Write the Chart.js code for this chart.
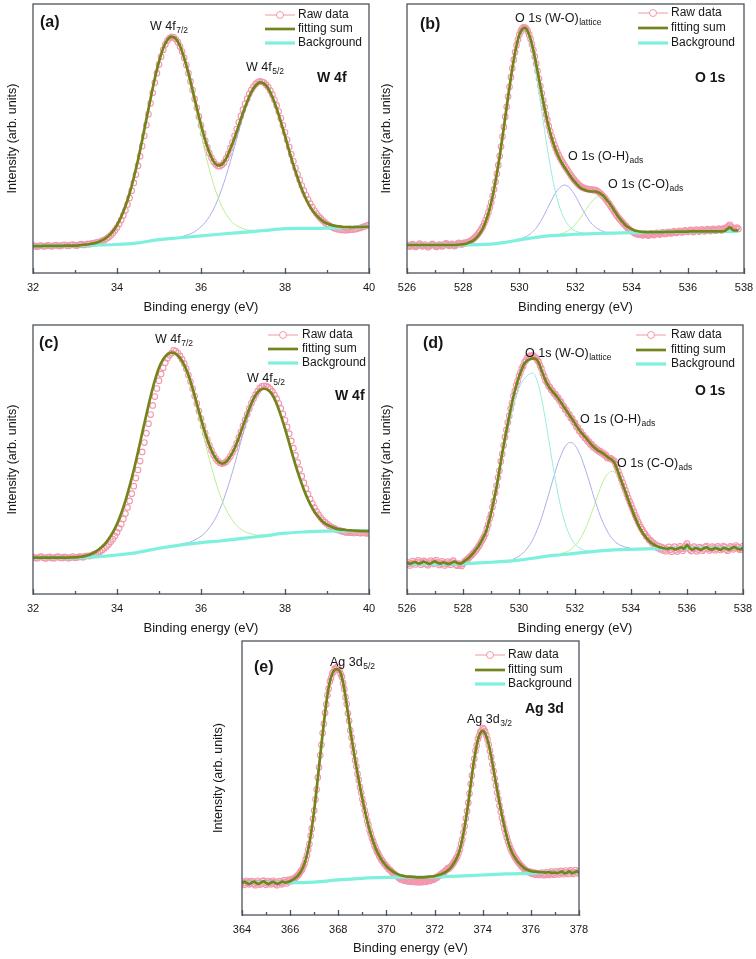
<!DOCTYPE html>
<html>
<head>
<meta charset="utf-8">
<title>XPS spectra</title>
<script src="https://cdn.jsdelivr.net/npm/chart.js@4.4.0/dist/chart.umd.min.js"></script>
<style>
  body { margin: 0; background: #fff; }
  #page { position: relative; width: 756px; height: 959px; overflow: hidden; background: #fff; }
  canvas { position: absolute; }
</style>
</head>
<body>
<div id="page">
  <canvas id="chartA" width="379" height="320" style="left:0;top:0"></canvas>
  <canvas id="chartB" width="380" height="320" style="left:374px;top:0"></canvas>
  <canvas id="chartC" width="379" height="320" style="left:0;top:321px"></canvas>
  <canvas id="chartD" width="379" height="320" style="left:374px;top:321px"></canvas>
  <canvas id="chartE" width="380" height="322" style="left:209px;top:637px"></canvas>
</div>
<script>
// ---- Panel (a): W 4f ----
const aTicks = [32, 34, 36, 38, 40];
const aMinor = [33, 35, 37, 39];
const aRawStart = 32, aRawStep = 0.05;
const aRaw = [
  10.3,10.0,9.8,10.1,10.2,9.9,10.0,10.3,10.1,9.9,10.2,10.4,10.1,10.0,10.3,10.5,10.2,10.1,10.4,10.6,
  10.3,10.2,10.5,10.7,10.4,10.6,10.8,10.7,11.0,11.1,11.3,11.5,11.6,12.0,12.3,12.8,13.3,14.0,14.8,15.8,
  16.9,18.2,19.7,21.4,23.3,25.5,27.9,30.6,33.5,36.6,39.9,43.4,47.2,51.0,55.0,59.0,63.1,67.0,70.8,74.3,
  77.5,80.4,83.0,84.9,86.4,87.3,87.8,87.6,86.9,85.8,84.2,82.3,80.0,77.3,74.3,71.2,68.0,64.7,61.4,58.1,
  54.9,51.9,49.2,46.7,44.6,42.8,41.4,40.4,39.8,39.7,40.2,41.1,42.6,44.3,46.4,48.6,51.0,53.5,56.0,58.4,
  60.7,62.9,64.8,66.6,68.1,69.3,70.3,70.9,71.2,71.1,70.8,70.0,69.1,67.8,66.3,64.4,62.3,60.0,57.5,54.9,
  52.3,49.5,46.8,44.1,41.5,39.0,36.7,34.6,32.5,30.6,28.9,27.3,25.8,24.5,23.2,22.1,21.1,20.3,19.5,18.8,
  18.2,17.7,17.2,16.8,16.5,16.3,16.2,16.0,16.0,15.9,16.0,16.1,16.1,16.3,16.4,16.6,16.8,17.1,17.3,17.6,
  17.9
];
const aFitStart = 32, aFitStep = 0.1;
const aFit = [
  10.0,10.0,10.0,10.1,10.1,10.1,10.1,10.1,10.2,10.2,10.2,
  10.3,10.5,10.6,10.9,11.2,11.8,12.6,13.8,15.5,17.8,
  20.9,24.8,29.6,35.4,42.0,49.4,57.2,64.9,72.3,78.6,
  83.5,86.7,87.9,87.1,84.4,79.9,74.4,67.9,61.4,55.1,
  49.4,44.8,41.5,40.0,40.4,42.6,46.2,50.3,54.9,59.6,
  63.7,67.3,69.7,70.9,70.4,68.6,65.4,61.2,56.3,51.0,
  45.4,40.1,35.4,31.1,27.5,24.5,22.3,20.6,19.3,18.4,
  17.9,17.5,17.3,17.1,17.1,17.0,17.1,17.1,17.2,17.2
];
const aBgE = [32, 33, 34, 34.5, 35, 35.5, 36, 36.5, 37, 37.5, 38, 38.5, 39, 39.5, 40];
const aBg = [10.0, 10.2, 10.6, 11.2, 12.4, 13.1, 13.8, 14.5, 15.1, 15.8, 16.5, 16.6, 16.7, 17.0, 17.2];
const aGreenStart = 35.3;
const aGreen = [87.8,86.9,84.0,79.4,73.5,66.5,59.2,51.8,44.7,38.4,32.9,28.3,24.6,21.8,19.6,18.1,17.2,16.5,16.0,15.9,15.8];
const aBlueStart = 35.5;
const aBlue = [13.4,13.8,14.3,14.9,15.9,17.2,18.8,21.0,23.8,27.3,31.5,36.2,41.5,47.0,52.8,58.2,62.9,66.8,69.4,70.7];

// ---- Panel (b): O 1s ----
const bTicks = [526, 528, 530, 532, 534, 536, 538];
const bMinor = [527, 529, 531, 533, 535, 537];
const bRawStart = 526, bRawStep = 0.05;
const bRaw = [
  10.6,10.1,9.8,10.3,10.7,10.2,9.7,10.0,10.5,10.9,10.3,9.9,10.2,10.6,10.1,9.6,10.0,10.4,10.8,10.5,
  10.0,9.7,10.2,10.6,10.3,9.9,10.1,10.7,11.0,10.5,10.1,10.4,10.8,10.3,10.0,10.4,10.9,11.2,10.8,10.6,
  11.0,11.3,11.1,11.4,11.6,11.9,12.1,12.6,13.0,13.6,14.1,14.8,15.5,16.4,17.3,18.5,19.7,21.1,22.6,24.4,
  26.3,28.6,31.1,33.9,36.9,40.1,43.5,47.0,50.7,54.3,58.1,61.8,65.6,69.2,72.8,76.1,79.3,82.1,84.7,86.8,
  88.6,89.9,90.8,91.3,91.2,90.8,89.9,88.6,87.0,85.0,82.9,80.4,77.8,75.1,72.3,69.5,66.8,64.1,61.6,59.0,
  56.8,54.6,52.7,50.8,49.2,47.6,46.3,45.0,43.9,42.8,41.9,41.0,40.1,39.3,38.5,37.7,36.9,36.1,35.4,34.7,
  34.1,33.5,33.0,32.5,32.1,31.8,31.6,31.4,31.3,31.2,31.1,31.0,30.9,30.9,30.8,30.6,30.3,29.9,29.5,28.9,
  28.4,27.8,27.1,26.4,25.7,24.9,24.1,23.3,22.5,21.7,21.0,20.3,19.7,19.1,18.5,17.9,17.4,16.8,16.3,15.9,
  15.6,15.2,14.9,14.6,14.4,14.3,14.5,14.2,14.0,14.3,14.6,14.1,13.9,14.3,14.7,14.4,14.1,14.5,14.9,14.6,
  14.3,14.7,15.1,14.8,14.5,14.9,15.3,15.0,14.7,15.1,15.5,15.2,14.9,15.3,15.7,15.4,15.1,15.5,15.9,15.6,
  15.3,15.7,16.0,15.6,15.2,15.6,16.1,15.8,15.4,15.7,16.2,15.9,15.5,15.8,16.3,16.0,15.6,15.9,16.4,16.0,
  15.7,16.1,16.5,16.2,15.8,16.3,16.7,16.4,17.0,17.5,17.9,17.2,16.5,16.1,16.6,16.9,16.4
];
const bFitStart = 526, bFitStep = 0.1;
const bFit = [
  10.4,10.4,10.4,10.4,10.4,10.4,10.4,10.4,10.4,10.4,10.4,10.4,10.4,10.4,10.4,10.4,10.4,10.4,
  10.5,10.6,10.7,
  10.9,11.3,11.7,12.4,13.4,14.8,16.6,19.1,22.3,26.2,
  31.2,37.0,43.4,50.6,58.0,65.5,72.7,79.2,84.6,88.5,
  90.7,91.1,89.8,86.9,82.8,77.6,72.1,66.5,61.2,56.3,
  52.2,48.6,45.6,43.2,41.2,39.5,37.9,36.3,34.8,33.6,
  32.4,31.5,31.0,30.6,30.4,30.3,30.3,30.0,29.4,28.6,
  27.3,26.1,24.5,22.9,21.3,19.9,18.7,17.6,16.9,16.3,
  15.8,15.6,15.4,15.3,15.2,15.2,15.2,15.2,15.2,15.2,
  15.2,15.3,15.3,15.3,15.3,15.4,15.4,15.4,15.4,15.4,
  15.5,15.5,15.5,15.5,15.5,15.5,15.5,15.5,15.5,15.5,
  15.5,15.5,15.6,16.3,17.0,16.0,15.8,15.9
];
const bBgE = [526, 527, 528, 529, 529.5, 530, 530.5, 531, 531.5, 532, 533, 534, 535, 536, 537, 537.8];
const bBg = [10.4, 10.4, 10.4, 10.7, 11.4, 12.3, 13.1, 13.8, 14.1, 14.4, 14.7, 15.0, 15.2, 15.4, 15.5, 15.5];
const bLatticeStart = 529.6;
const bLattice = [65.5,72.7,79.1,84.4,88.2,90.3,90.4,88.7,85.2,80.3,74.1,67.3,60.1,53.0,46.1,39.9,34.3,29.5,25.6,22.5,20.2,18.4,17.1,16.2,15.6,15.2,14.9,14.8];
const bOHStart = 529.9;
const bOH = [12.3,12.6,12.9,13.3,13.9,14.6,15.6,16.7,18.2,19.9,21.9,24.0,26.1,28.1,29.9,31.3,32.3,32.7,32.4,31.6,30.2,28.6,26.6,24.6,22.7,20.9,19.3,18.1,17.1,16.4,15.8,15.4,15.1,15.1,15.0];
const bCOStart = 531.3;
const bCO = [14.2,14.3,14.6,15.0,15.5,16.2,17.0,18.2,19.4,20.8,22.5,24.0,25.5,26.8,27.8,28.3,28.3,27.9,26.9,25.8,24.3,22.8,21.3,19.9,18.7,17.6,16.9,16.3,15.8,15.5,15.4];

// ---- Panel (c): W 4f ----
const cTicks = [32, 34, 36, 38, 40];
const cMinor = [33, 35, 37, 39];
const cRawStart = 32, cRawStep = 0.05;
const cRaw = [
  13.8,13.4,13.3,13.7,13.9,13.5,13.2,13.6,13.8,13.4,13.3,13.7,13.9,13.5,13.4,13.8,13.6,13.3,13.6,13.9,
  13.5,13.6,13.9,13.8,13.7,14.1,14.2,14.1,14.4,14.8,15.0,15.4,15.8,16.4,17.0,17.7,18.4,19.4,20.4,21.6,
  22.9,24.4,26.0,27.9,29.9,32.2,34.6,37.3,40.1,43.1,46.1,49.4,52.8,56.3,59.8,63.3,66.7,70.1,73.4,76.4,
  79.3,81.8,84.1,86.0,87.6,88.8,89.6,90.6,90.3,89.6,88.5,87.2,85.7,83.7,81.4,79.0,76.4,73.6,70.8,68.0,
  65.2,62.4,59.8,57.4,55.3,53.4,51.7,50.4,49.4,48.8,48.5,48.7,49.2,50.1,51.2,52.6,54.1,56.0,58.1,60.3,
  62.5,64.7,66.8,68.9,70.9,72.6,74.1,75.4,76.5,77.2,77.4,77.3,76.9,76.2,75.3,74.0,72.6,70.9,69.0,66.9,
  64.6,62.1,59.6,56.9,54.2,51.5,48.9,46.3,43.8,41.4,39.2,37.1,35.3,33.6,32.1,30.7,29.5,28.4,27.5,26.7,
  26.1,25.4,25.0,24.5,24.2,23.8,23.7,23.3,23.2,22.9,23.0,22.8,22.9,22.7,22.9,22.8,22.6,22.8,22.7,22.5,
  22.7
];
const cFitStart = 32, cFitStep = 0.1;
const cFit = [
  13.5,13.5,13.5,13.5,13.5,13.5,13.5,13.5,13.5,13.6,13.6,
  13.8,14.0,14.4,15.0,15.8,17.0,18.4,20.4,22.9,26.0,
  29.9,34.6,40.1,46.1,52.8,59.8,66.7,73.4,79.3,84.1,
  87.3,89.1,89.7,89.3,87.8,85.2,81.4,76.4,70.8,65.2,
  59.8,55.3,51.7,49.4,48.5,49.2,51.2,54.1,58.1,62.5,
  66.8,70.9,74.0,75.8,76.3,75.8,74.1,70.8,66.4,61.5,
  56.1,50.6,45.5,40.9,36.8,33.4,30.6,28.6,26.9,25.8,
  25.0,24.4,24.0,23.9,23.7,23.6,23.5,23.4,23.4,23.4
];
const cBgE = [32, 33, 33.5, 34, 34.5, 35, 35.5, 36, 36.5, 37, 37.5, 38, 38.5, 39, 39.5, 40];
const cBg = [13.5, 13.5, 13.8, 14.5, 15.5, 17.0, 18.2, 19.1, 19.8, 20.7, 21.6, 22.6, 23.1, 23.4, 23.5, 23.4];
const cGreenStart = 35.5;
const cGreen = [87.3,84.5,80.3,75.1,69.0,62.7,56.2,50.0,44.3,39.2,34.8,31.3,28.6,26.3,24.7,23.6,22.8,22.4,22.0,21.9,21.9];
const cBlueStart = 35.5;
const cBlue = [18.4,18.8,19.1,19.7,20.5,21.5,22.8,24.7,26.9,29.9,33.5,37.9,42.8,48.1,53.9,59.6,64.9,69.6,73.2,75.6];

// ---- Panel (d): O 1s ----
const dTicks = [526, 528, 530, 532, 534, 536, 538];
const dMinor = [527, 529, 531, 533, 535, 537];
const dRawStart = 526, dRawStep = 0.05;
const dRaw = [
  11.9,11.2,10.6,11.4,12.2,11.6,11.0,11.8,12.5,11.7,10.9,11.5,12.3,12.0,11.1,10.7,11.6,12.4,11.8,11.2,
  12.0,12.6,11.7,10.8,11.3,12.1,11.5,10.6,11.2,12.0,11.4,10.9,11.7,12.4,11.6,10.8,10.5,11.3,11.0,10.4,
  11.2,12.0,12.4,12.9,13.3,13.9,14.3,15.0,15.5,16.1,16.8,17.6,18.4,19.4,20.3,21.2,22.4,24.3,25.8,28.0,
  29.6,32.3,34.5,37.6,40.2,43.3,45.8,49.3,52.0,55.3,58.3,61.0,63.8,66.2,68.9,71.0,73.6,75.4,77.6,79.1,
  81.0,82.3,83.9,84.8,86.2,86.9,87.9,88.2,88.6,88.3,88.7,88.1,87.9,87.0,86.3,84.9,83.8,82.1,80.9,79.4,
  78.6,77.4,76.9,75.8,75.5,74.5,74.3,73.2,72.9,71.8,71.4,70.1,69.8,68.6,68.3,67.0,66.7,65.4,65.2,63.9,
  63.6,62.2,61.9,60.6,60.5,59.2,59.1,58.0,57.9,56.8,56.7,55.6,55.6,54.6,54.6,53.8,53.7,53.0,53.1,52.3,
  52.5,51.6,51.7,50.6,50.6,50.4,50.3,49.8,49.5,48.2,47.0,45.6,44.2,42.8,41.4,40.0,38.6,37.1,35.7,34.4,
  33.2,31.8,30.6,29.3,28.2,26.9,25.9,24.8,24.0,23.0,22.4,21.4,21.0,20.1,19.9,19.0,19.0,17.6,18.3,17.1,
  17.8,16.6,17.4,16.2,17.1,15.9,16.6,17.5,16.4,15.7,16.9,17.6,16.3,15.8,16.8,17.7,16.9,16.1,16.8,17.9,
  18.7,17.6,16.5,16.0,16.9,17.6,16.8,15.9,16.5,17.4,17.0,16.1,16.6,17.5,17.8,16.9,16.2,16.7,17.6,17.1,
  16.3,16.8,17.7,17.2,16.4,16.9,17.8,17.4,16.5,16.1,16.9,17.7,17.3,16.6,17.2,18.0,17.5,16.7,16.4,17.1,
  17.8
];
const dFitStart = 526, dFitStep = 0.1;
const dFit = [
  11.8,11.2,11.6,11.9,11.3,11.5,12.0,11.6,11.2,11.7,
  12.1,11.5,11.3,11.8,11.4,11.2,11.6,12.0,11.5,11.3,
  11.8,12.6,13.4,14.5,15.7,17.0,18.6,20.5,22.6,26.0,
  30.0,34.8,39.9,46.0,52.3,58.0,63.4,68.6,73.4,77.4,
  80.8,83.6,85.8,86.8,87.3,87.6,87.4,86.0,83.3,80.6,
  78.3,76.6,75.2,74.0,72.7,71.2,69.6,68.1,66.5,65.0,
  63.4,61.8,60.3,59.1,57.9,56.6,55.4,54.4,53.5,52.9,
  52.3,51.5,50.6,50.0,49.0,46.5,43.6,40.8,38.0,35.0,
  32.3,29.6,27.1,24.9,23.0,21.5,20.2,19.2,18.5,17.9,
  17.5,17.2,17.0,16.8,17.1,16.9,16.6,17.0,17.3,16.8,
  18.3,17.0,16.5,17.1,16.8,16.4,17.0,17.3,16.7,16.5,
  17.1,16.8,16.4,17.2,16.9,16.5,17.1,17.4,16.8,16.6,
  17.2
];
const dBgE = [526, 527, 528, 529, 529.5, 530, 530.5, 531, 531.5, 532, 533, 534, 535, 536, 537, 538];
const dBg = [11.2, 11.2, 11.3, 11.8, 12.1, 12.6, 13.3, 14.1, 14.6, 15.1, 16.1, 16.6, 16.9, 17.0, 17.1, 17.1];
const dLatticeStart = 528.2;
const dLattice = [
  13.2,14.2,15.4,16.7,18.2,20.0,22.0,25.2,29.0,33.5,
  38.5,44.4,50.5,55.9,61.2,65.8,70.0,73.5,76.4,78.6,
  80.2,81.2,81.9,82.1,80.6,77.4,73.0,67.5,61.4,54.9,
  48.5,42.4,36.8,32.0,27.9,24.6,22.0,20.0,18.5,17.5,
  16.8,16.4,16.1,16.0
];
const dOHStart = 529.8;
const dOH = [
  13.0,13.5,14.0,14.9,15.8,17.1,18.5,20.4,22.6,25.2,
  28.1,31.4,34.9,38.5,42.1,45.6,48.9,51.6,54.0,55.5,
  56.3,56.2,55.3,53.6,51.4,48.5,45.4,42.1,38.6,35.2,
  32.1,29.1,26.6,24.4,22.5,21.0,19.8,18.9,18.2,17.8,
  17.4,17.2,17.0
];
const dCOStart = 531.5;
const dCO = [
  15.0,15.3,15.7,16.2,17.0,18.0,19.2,20.8,22.7,25.0,
  27.6,30.4,33.3,36.3,39.2,41.7,43.7,44.9,45.6,45.4,
  44.5,42.8,40.7,38.1,35.3,32.4,29.6,27.1,24.8,22.9,
  21.4,20.1,19.1,18.5,18.0,17.6,17.3
];

// ---- Panel (e): Ag 3d ----
const eTicks = [364, 366, 368, 370, 372, 374, 376, 378];
const eMinor = [365, 367, 369, 371, 373, 375, 377];
const eRawStart = 364, eRawStep = 0.05;
const eRaw = [
  12.3,11.6,11.0,11.8,12.5,11.9,11.2,11.6,12.4,12.1,11.3,10.9,11.7,12.5,11.8,11.1,11.5,12.3,12.6,11.7,
  11.0,11.6,12.4,11.9,11.2,11.7,12.5,12.0,11.3,10.9,11.8,12.4,11.7,11.2,12.0,12.7,12.1,11.5,12.2,12.9,
  12.6,12.3,13.1,13.4,13.2,13.9,14.4,14.6,15.4,16.1,16.6,17.8,18.7,20.3,21.8,23.9,25.9,28.9,31.5,35.1,
  38.1,42.2,45.8,50.2,53.9,58.3,62.1,66.4,69.8,73.8,76.9,80.3,82.6,85.2,86.5,88.2,88.7,89.9,89.8,90.6,
  89.5,89.6,88.0,86.9,84.6,82.5,79.5,77.0,73.6,70.9,67.4,64.8,61.8,59.4,56.5,54.2,51.5,49.3,46.7,44.7,
  42.3,40.5,38.2,36.5,34.4,32.9,30.9,29.6,28.0,26.9,25.4,24.5,23.3,22.6,21.5,20.9,20.0,19.6,18.8,18.4,
  17.7,17.4,16.7,16.5,15.9,15.6,15.0,14.8,14.3,14.1,13.7,13.3,13.0,13.4,12.8,12.5,13.1,12.6,12.2,12.9,
  12.4,12.1,12.7,12.3,12.0,12.6,12.2,11.9,12.5,12.2,12.0,12.6,12.3,12.1,12.8,12.5,12.4,13.0,12.8,12.9,
  13.5,13.4,13.7,14.2,14.3,14.8,15.0,15.5,15.6,16.2,16.5,17.1,17.0,17.5,17.9,18.6,19.2,19.9,20.7,21.4,
  22.6,24.0,25.9,27.6,30.1,32.4,35.3,37.9,41.0,44.3,47.8,50.9,54.4,57.0,59.9,61.9,64.2,65.4,66.8,67.3,
  68.2,67.8,66.9,65.6,64.0,62.1,59.9,57.6,55.0,52.5,49.8,47.3,44.7,42.3,39.9,37.7,35.5,33.5,31.6,29.9,
  28.3,26.9,25.6,24.4,23.4,22.5,21.6,20.9,20.3,19.6,19.0,18.5,17.9,17.5,17.0,16.7,16.3,16.0,15.6,15.9,
  15.3,15.1,15.6,14.9,14.7,15.3,15.0,14.6,15.2,15.5,14.8,14.5,15.1,15.6,15.0,14.6,15.3,15.8,15.1,14.7,
  15.4,15.9,15.2,14.8,15.5,16.1,15.4,14.9,15.6,16.2,15.5,15.0,15.8,16.3,15.5,15.0,15.7,16.4,15.6,15.2,
  16.0
];
const eFitStart = 364, eFitStep = 0.1;
const eFit = [
  11.6,12.1,11.7,11.3,11.8,12.2,11.6,11.4,11.9,12.3,
  11.7,11.3,11.8,12.1,11.6,11.4,11.9,12.2,11.8,12.0,
  12.3,12.8,13.4,14.2,15.2,16.8,18.9,22.0,26.2,31.8,
  38.3,46.0,54.1,62.3,70.0,77.2,83.0,86.8,88.9,89.7,
  89.6,88.2,84.8,79.7,73.8,67.5,61.9,56.6,51.6,46.8,
  42.4,38.3,34.5,31.0,28.1,25.5,23.4,21.6,20.1,18.9,
  17.8,17.0,16.3,15.7,15.2,14.8,14.5,14.3,14.1,14.0,
  14.0,13.9,13.8,13.7,13.7,13.7,13.8,13.9,14.0,14.1,
  14.2,14.4,14.7,15.0,15.4,15.9,16.6,17.6,18.9,20.5,
  22.5,25.6,29.8,35.0,40.8,47.6,54.1,59.6,63.9,66.5,
  67.2,66.3,63.8,60.2,55.6,50.5,45.6,40.8,36.3,32.2,
  28.6,25.5,23.2,21.5,20.1,19.0,18.1,17.3,16.7,16.3,
  16.0,15.8,15.8,15.7,15.6,15.6,15.5,15.6,15.5,15.4,
  15.5,15.3,15.6,15.8,15.2,15.4,15.9,15.3,15.5,15.9,
  15.4
];
const eBgE = [364, 365, 366, 367, 368, 369, 370, 371, 372, 373, 374, 375, 376, 377, 378];
const eBg = [11.8, 11.8, 11.8, 12.0, 12.8, 13.4, 13.7, 13.8, 13.9, 14.2, 14.6, 15.0, 15.2, 15.5, 15.5];

// ---- Styles ----
const FONT = "'Liberation Sans', Arial, Helvetica, sans-serif";
const INK = '#161616';
const AXIS = '#4b545b';
const PINK = '#f396ad';
const OLIVE = '#74841a';
const BG_CYAN = '#7ff0de';
const COMP_GREEN = '#b8ef96';
const COMP_BLUE = '#a9afe6';
const COMP_CYAN = '#98ecdf';

// Turn value lists into {x, y} points
function onGrid(start, step, vals) {
    return vals.map((v, i) => ({ x: Math.round((start + i * step) * 100) / 100, y: v }));
}

function pairs(xs, ys) {
    return xs.map((x, i) => ({ x: x, y: ys[i] }));
}

// Dataset helpers
function fitLine(data) {
    return { data, showLine: true, borderColor: OLIVE, borderWidth: 2.7, pointRadius: 0, cubicInterpolationMode: 'monotone' };
}

function bgLine(data) {
    return { data, showLine: true, borderColor: BG_CYAN, borderWidth: 3.2, pointRadius: 0, cubicInterpolationMode: 'monotone' };
}

function compLine(data, color) {
    return { data, showLine: true, borderColor: color, borderWidth: 1, pointRadius: 0, cubicInterpolationMode: 'monotone' };
}

function rawPoints(data) {
    return {
        data, showLine: false, pointStyle: 'circle', pointRadius: 2.8, pointHoverRadius: 2.8,
        borderWidth: 1.1, borderColor: PINK, backgroundColor: 'rgba(255,255,255,0)',
        pointBorderColor: PINK, pointBackgroundColor: 'rgba(255,255,255,0)'
    };
}

// Frame, inward ticks, legend and peak labels
function makeDecor(cfg) {
    return {
        id: 'decor',
        afterDraw(chart) {
            const { ctx, chartArea: area } = chart;
            const x = chart.scales.x;
            ctx.save();

            ctx.strokeStyle = AXIS;
            ctx.lineWidth = 1.3;
            ctx.strokeRect(area.left, area.top, area.right - area.left, area.bottom - area.top);

            ctx.beginPath();
            cfg.major.forEach(v => {
                const px = Math.round(x.getPixelForValue(v)) + 0.5;
                ctx.moveTo(px, area.bottom + 1);
                ctx.lineTo(px, area.bottom - 5);
            });
            cfg.minor.forEach(v => {
                const px = Math.round(x.getPixelForValue(v)) + 0.5;
                ctx.moveTo(px, area.bottom);
                ctx.lineTo(px, area.bottom - 3);
            });
            ctx.stroke();

            // legend
            const lg = cfg.legend;
            const x0 = area.left + lg.x0, x1 = area.left + lg.x1;
            const rows = lg.rows.map(r => area.top + r);
            ctx.strokeStyle = PINK;
            ctx.lineWidth = 1;
            ctx.beginPath();
            ctx.moveTo(x0, rows[0]);
            ctx.lineTo(x1, rows[0]);
            ctx.stroke();
            ctx.beginPath();
            ctx.arc((x0 + x1) / 2, rows[0], 3.5, 0, Math.PI * 2);
            ctx.fillStyle = '#fff';
            ctx.fill();
            ctx.stroke();
            ctx.strokeStyle = OLIVE;
            ctx.lineWidth = 2.7;
            ctx.beginPath();
            ctx.moveTo(x0, rows[1]);
            ctx.lineTo(x1, rows[1]);
            ctx.stroke();
            ctx.strokeStyle = BG_CYAN;
            ctx.lineWidth = 3.2;
            ctx.beginPath();
            ctx.moveTo(x0, rows[2]);
            ctx.lineTo(x1, rows[2]);
            ctx.stroke();

            ctx.fillStyle = INK;
            ctx.font = '12px ' + FONT;
            ctx.textAlign = 'left';
            ctx.textBaseline = 'middle';
            ['Raw data', 'fitting sum', 'Background'].forEach((t, i) => {
                ctx.fillText(t, area.left + lg.text, rows[i]);
            });

            // peak labels
            ctx.textBaseline = 'alphabetic';
            cfg.labels.forEach(l => {
                const lx = area.left + l.dx, ly = area.top + l.dy;
                ctx.font = (l.bold ? 'bold ' : '') + l.size + 'px ' + FONT;
                ctx.fillText(l.text, lx, ly);
                if (l.sub) {
                    const w = ctx.measureText(l.text).width;
                    ctx.font = '8.5px ' + FONT;
                    ctx.fillText(l.sub, lx + w + 0.5, ly + 3);
                }
            });
            ctx.restore();
        }
    };
}

function makePanel(id, cfg) {
    return new Chart(document.getElementById(id), {
        type: 'scatter',
        data: { datasets: cfg.datasets },
        options: {
            responsive: false,
            animation: false,
            devicePixelRatio: 1,
            layout: { padding: { left: 0, top: 4, right: 10, bottom: 0 } },
            plugins: { legend: { display: false }, tooltip: { enabled: false } },
            scales: {
                x: {
                    type: 'linear',
                    min: cfg.min,
                    max: cfg.max,
                    afterBuildTicks: s => { s.ticks = cfg.major.map(v => ({ value: v })); },
                    afterFit: s => {
                        s.height = cfg.xHeight;
                        // keep the plot box fixed; edge labels fit inside the canvas margin
                        s.paddingLeft = 0;
                        s.paddingRight = 0;
                    },
                    grid: { display: false, drawTicks: false },
                    border: { display: false },
                    ticks: { color: INK, font: { family: FONT, size: 11 }, padding: 8, maxRotation: 0, autoSkip: false },
                    title: {
                        display: true, text: 'Binding energy (eV)', color: INK,
                        font: { family: FONT, size: 13 }, padding: { top: 0, bottom: cfg.xTitlePad }
                    }
                },
                y: {
                    min: 0,
                    max: 100,
                    afterFit: s => { s.width = 33; },
                    grid: { display: false, drawTicks: false },
                    border: { display: false },
                    ticks: { display: false },
                    title: {
                        display: true, text: 'Intensity (arb. units)', color: INK,
                        font: { family: FONT, size: 12.5 }, padding: { top: cfg.yTitlePad, bottom: 0 }
                    }
                }
            }
        },
        plugins: [makeDecor(cfg)]
    });
}

// Panel (a)
makePanel('chartA', {
    min: 32, max: 40, major: aTicks, minor: aMinor, xHeight: 47, xTitlePad: 5, yTitlePad: 5,
    datasets: [
        fitLine(onGrid(aFitStart, aFitStep, aFit)),
        bgLine(pairs(aBgE, aBg)),
        compLine(onGrid(aGreenStart, 0.1, aGreen), COMP_GREEN),
        compLine(onGrid(aBlueStart, 0.1, aBlue), COMP_BLUE),
        rawPoints(onGrid(aRawStart, aRawStep, aRaw))
    ],
    legend: { x0: 232, x1: 262, text: 265, rows: [11, 25, 39] },
    labels: [
        { text: '(a)', dx: 7, dy: 23, bold: true, size: 16 },
        { text: 'W 4f', sub: '7/2', dx: 117, dy: 26, size: 12.5 },
        { text: 'W 4f', sub: '5/2', dx: 213, dy: 67, size: 12.5 },
        { text: 'W 4f', dx: 284, dy: 78, bold: true, size: 14 }
    ]
});

// Panel (b)
makePanel('chartB', {
    min: 526, max: 538, major: bTicks, minor: bMinor, xHeight: 47, xTitlePad: 5, yTitlePad: 5,
    datasets: [
        fitLine(onGrid(bFitStart, bFitStep, bFit)),
        bgLine(pairs(bBgE, bBg)),
        compLine(onGrid(bLatticeStart, 0.1, bLattice), COMP_CYAN),
        compLine(onGrid(bOHStart, 0.1, bOH), COMP_BLUE),
        compLine(onGrid(bCOStart, 0.1, bCO), COMP_GREEN),
        rawPoints(onGrid(bRawStart, bRawStep, bRaw))
    ],
    legend: { x0: 231, x1: 261, text: 264, rows: [9, 24, 39] },
    labels: [
        { text: '(b)', dx: 13, dy: 25, bold: true, size: 16 },
        { text: 'O 1s (W-O)', sub: 'lattice', dx: 108, dy: 18, size: 12.5 },
        { text: 'O 1s (O-H)', sub: 'ads', dx: 161, dy: 156, size: 12.5 },
        { text: 'O 1s (C-O)', sub: 'ads', dx: 201, dy: 184, size: 12.5 },
        { text: 'O 1s', dx: 288, dy: 78, bold: true, size: 14 }
    ]
});

// Panel (c)
makePanel('chartC', {
    min: 32, max: 40, major: cTicks, minor: cMinor, xHeight: 47, xTitlePad: 5, yTitlePad: 5,
    datasets: [
        fitLine(onGrid(cFitStart, cFitStep, cFit)),
        bgLine(pairs(cBgE, cBg)),
        compLine(onGrid(cGreenStart, 0.1, cGreen), COMP_GREEN),
        compLine(onGrid(cBlueStart, 0.1, cBlue), COMP_BLUE),
        rawPoints(onGrid(cRawStart, cRawStep, cRaw))
    ],
    legend: { x0: 235, x1: 265, text: 269, rows: [10, 24, 38] },
    labels: [
        { text: '(c)', dx: 6, dy: 23, bold: true, size: 16 },
        { text: 'W 4f', sub: '7/2', dx: 122, dy: 18, size: 12.5 },
        { text: 'W 4f', sub: '5/2', dx: 214, dy: 57, size: 12.5 },
        { text: 'W 4f', dx: 302, dy: 75, bold: true, size: 14 }
    ]
});

// Panel (d)
makePanel('chartD', {
    min: 526, max: 538, major: dTicks, minor: dMinor, xHeight: 47, xTitlePad: 5, yTitlePad: 5,
    datasets: [
        fitLine(onGrid(dFitStart, dFitStep, dFit)),
        bgLine(pairs(dBgE, dBg)),
        compLine(onGrid(dLatticeStart, 0.1, dLattice), COMP_CYAN),
        compLine(onGrid(dOHStart, 0.1, dOH), COMP_BLUE),
        compLine(onGrid(dCOStart, 0.1, dCO), COMP_GREEN),
        rawPoints(onGrid(dRawStart, dRawStep, dRaw))
    ],
    legend: { x0: 229, x1: 259, text: 264, rows: [10, 25, 39] },
    labels: [
        { text: '(d)', dx: 16, dy: 23, bold: true, size: 16 },
        { text: 'O 1s (W-O)', sub: 'lattice', dx: 118, dy: 32, size: 12.5 },
        { text: 'O 1s (O-H)', sub: 'ads', dx: 173, dy: 98, size: 12.5 },
        { text: 'O 1s (C-O)', sub: 'ads', dx: 210, dy: 142, size: 12.5 },
        { text: 'O 1s', dx: 288, dy: 70, bold: true, size: 14 }
    ]
});

// Panel (e)
makePanel('chartE', {
    min: 364, max: 378, major: eTicks, minor: eMinor, xHeight: 44, xTitlePad: 3, yTitlePad: 2,
    datasets: [
        fitLine(onGrid(eFitStart, eFitStep, eFit)),
        bgLine(pairs(eBgE, eBg)),
        rawPoints(onGrid(eRawStart, eRawStep, eRaw))
    ],
    legend: { x0: 233, x1: 263, text: 266, rows: [14, 29, 43] },
    labels: [
        { text: '(e)', dx: 12, dy: 31, bold: true, size: 16 },
        { text: 'Ag 3d', sub: '5/2', dx: 88, dy: 25, size: 12.5 },
        { text: 'Ag 3d', sub: '3/2', dx: 225, dy: 82, size: 12.5 },
        { text: 'Ag 3d', dx: 283, dy: 72, bold: true, size: 14 }
    ]
});
</script>
</body>
</html>
